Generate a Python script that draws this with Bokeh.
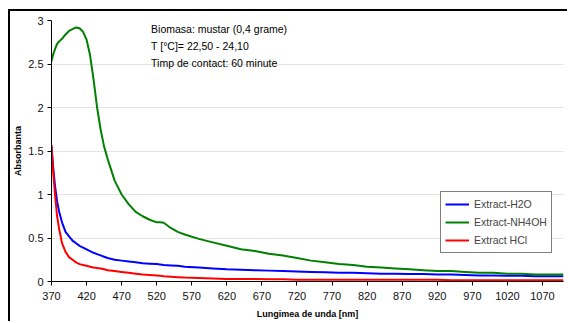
from bokeh.plotting import figure
from bokeh.models import Legend, LegendItem, Label, FixedTicker, Range1d
from bokeh.embed import file_html
from bokeh.resources import INLINE

wavelength = [370, 372, 375, 378, 381, 385, 390, 395, 400, 405, 410, 415, 420, 425, 430,
              435, 440, 445, 450, 460, 470, 480, 490, 500, 510, 520, 525, 530, 540, 550,
              560, 580, 600, 620, 640, 660, 680, 700, 720, 740, 760, 780, 800, 820, 840,
              860, 880, 900, 920, 940, 960, 980, 1000, 1020, 1040, 1060, 1080, 1100]

extract_h2o = [1.55, 1.35, 1.10, 0.92, 0.80, 0.68, 0.57, 0.52, 0.47, 0.44, 0.41, 0.39, 0.37,
               0.35, 0.33, 0.315, 0.30, 0.285, 0.27, 0.25, 0.24, 0.23, 0.22, 0.21, 0.205,
               0.20, 0.195, 0.19, 0.185, 0.18, 0.17, 0.16, 0.15, 0.14, 0.135, 0.13, 0.125,
               0.12, 0.115, 0.11, 0.105, 0.10, 0.10, 0.095, 0.09, 0.09, 0.085, 0.085, 0.08,
               0.08, 0.075, 0.07, 0.07, 0.065, 0.065, 0.06, 0.06, 0.06]

extract_nh4oh = [2.53, 2.60, 2.67, 2.73, 2.76, 2.79, 2.84, 2.88, 2.90, 2.92, 2.91, 2.87, 2.78,
                 2.60, 2.32, 2.00, 1.75, 1.55, 1.41, 1.16, 1.00, 0.89, 0.80, 0.75, 0.71,
                 0.68, 0.68, 0.675, 0.615, 0.57, 0.54, 0.49, 0.45, 0.41, 0.37, 0.35, 0.32,
                 0.30, 0.27, 0.24, 0.22, 0.20, 0.19, 0.17, 0.16, 0.15, 0.14, 0.13, 0.12,
                 0.12, 0.11, 0.10, 0.10, 0.09, 0.09, 0.08, 0.08, 0.08]

extract_hcl = [1.57, 1.30, 1.00, 0.75, 0.60, 0.44, 0.34, 0.28, 0.25, 0.22, 0.20, 0.19, 0.18,
               0.17, 0.16, 0.155, 0.15, 0.14, 0.13, 0.12, 0.11, 0.10, 0.09, 0.08, 0.075,
               0.07, 0.065, 0.06, 0.055, 0.05, 0.045, 0.04, 0.035, 0.03, 0.03, 0.03, 0.025,
               0.025, 0.02, 0.02, 0.02, 0.02, 0.02, 0.02, 0.02, 0.02, 0.02, 0.02, 0.02,
               0.015, 0.015, 0.015, 0.015, 0.015, 0.015, 0.015, 0.015, 0.015]

x_ticks = list(range(370, 1071, 50))
y_ticks = [0, 0.5, 1, 1.5, 2, 2.5, 3]

series_names = ["Extract-H2O", "Extract-NH4OH", "Extract HCl"]
series_colors = ["#0000ff", "#008000", "#ff0000"]

info_lines = ["Biomasa: mustar (0,4 grame)", "T [°C]= 22,50 - 24,10", "Timp de contact: 60 minute"]

FONT = "Liberation Sans"

p = figure(width=559, height=312, output_backend="svg", toolbar_location=None,
           x_range=Range1d(370, 1100), y_range=Range1d(0, 3),
           min_border_left=40, min_border_right=6, min_border_top=9, min_border_bottom=42)
p.margin = (9, 0, 0, 8)
p.styles = {"border-left": "2px solid black", "border-top": "2px solid black"}
p.outline_line_color = None
p.background_fill_color = "white"
p.border_fill_color = "white"

renderers = []
for vals, col in zip([extract_h2o, extract_nh4oh, extract_hcl], series_colors):
    r = p.line(wavelength, vals, line_color=col, line_width=2)
    renderers.append(r)

p.xgrid.visible = False
p.ygrid.ticker = FixedTicker(ticks=y_ticks)
p.ygrid.grid_line_color = "#e3e3e3"
p.ygrid.grid_line_width = 1

p.xaxis.ticker = FixedTicker(ticks=x_ticks)
p.yaxis.ticker = FixedTicker(ticks=y_ticks)
p.xaxis.axis_label = "Lungimea de unda [nm]"
p.yaxis.axis_label = "Absorbanta"
for ax in (p.xaxis, p.yaxis):
    ax.axis_line_color = "black"
    ax.major_tick_line_color = "black"
    ax.minor_tick_line_color = None
    ax.major_tick_in = 0
    ax.major_tick_out = 4
    ax.major_label_text_font = FONT
    ax.major_label_text_font_size = "11px"
    ax.major_label_text_color = "#111111"
    ax.axis_label_text_font = FONT
    ax.axis_label_text_font_style = "bold"
    ax.axis_label_text_font_size = "9px"
    ax.axis_label_text_color = "black"
p.xaxis.major_label_standoff = 6
p.xaxis.axis_label_standoff = 6
p.yaxis.major_label_standoff = 4
p.yaxis.axis_label_standoff = 2
p.yaxis.major_label_overrides = {0: "0", 0.5: "0.5", 1: "1", 1.5: "1.5", 2: "2", 2.5: "2.5", 3: "3"}

for i, t in enumerate(info_lines):
    p.add_layout(Label(x=512, y=2.97 - i * 0.195, text=t, text_font=FONT, text_font_size="10.5px",
                       text_baseline="top", text_color="black"))

items = [LegendItem(label=n, renderers=[r]) for n, r in zip(series_names, renderers)]
legend = Legend(items=items, location=(389, 28), label_text_font=FONT,
                label_text_font_size="10.5px", glyph_width=24, glyph_height=16,
                label_height=16, spacing=2, padding=4, margin=0,
                border_line_color="black", border_line_width=1,
                background_fill_color="white", background_fill_alpha=1)
p.add_layout(legend)

open("out.html", "w").write(file_html(p, INLINE))
